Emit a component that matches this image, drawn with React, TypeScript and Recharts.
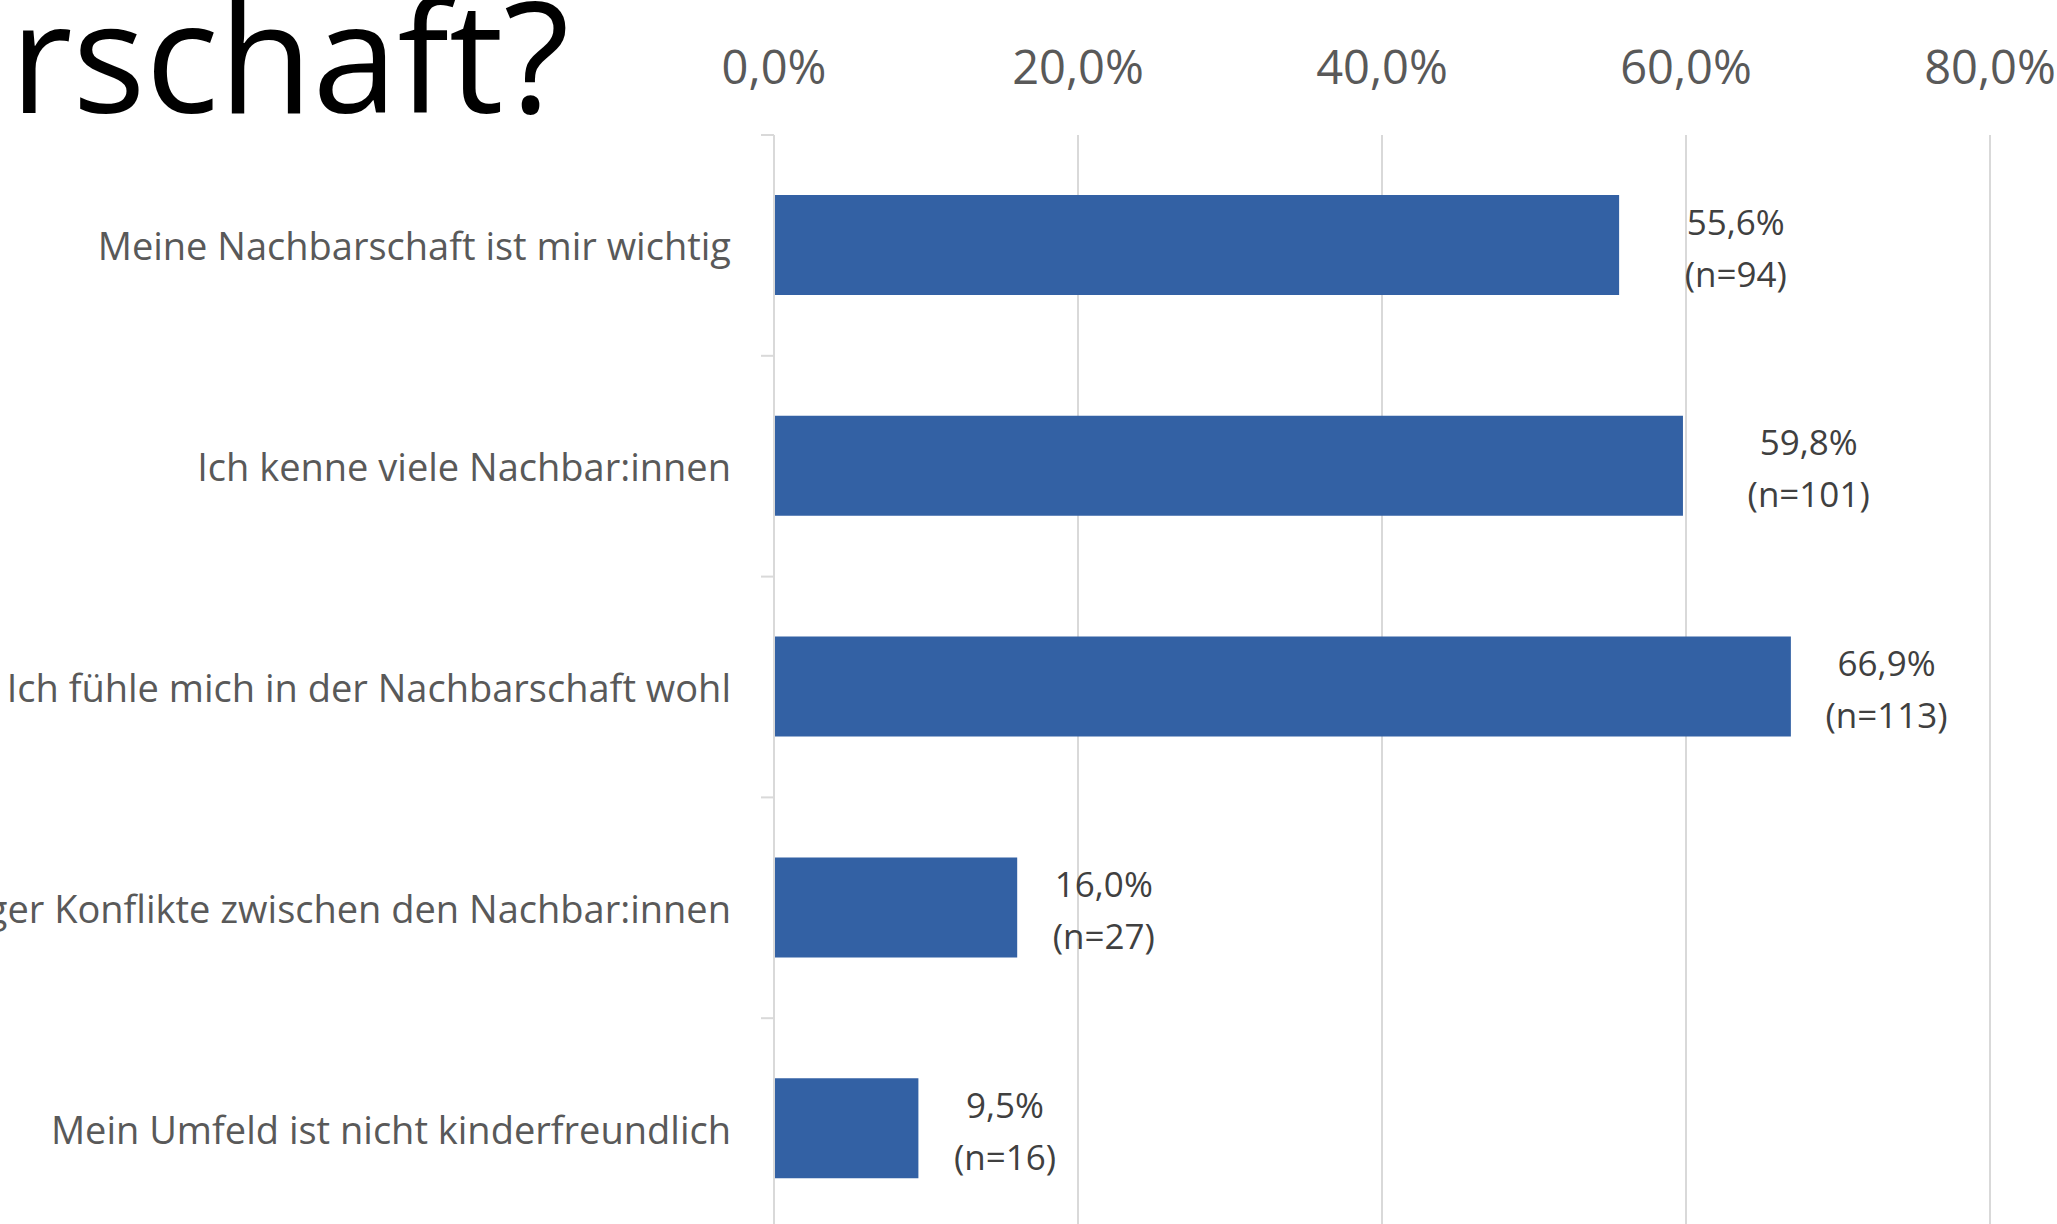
import React from "react";
import { BarChart, Bar, XAxis, YAxis, CartesianGrid, LabelList } from "recharts";

const CATEGORIES = [
  "Meine Nachbarschaft ist mir wichtig",
  "Ich kenne viele Nachbar:innen",
  "Ich fühle mich in der Nachbarschaft wohl",
  "Es gibt häufiger Konflikte zwischen den Nachbar:innen",
  "Mein Umfeld ist nicht kinderfreundlich",
];
const SHARES = [55.6, 59.8, 66.9, 16.0, 9.5];
const COUNTS = [94, 101, 113, 27, 16];
const X_TICKS = [0, 20, 40, 60, 80];
const TITLE = "rschaft?";

const W = 2057;
const H = 1224;
const PLOT_TOP = 135;
const PLOT_LEFT = 774;
const CHART_H = 1239;
const BAND = (CHART_H - PLOT_TOP) / CATEGORIES.length;

const GRID = "#d9d9d9";
const TEXT = "#595959";
const BAR = "#3361a4";
const FONT = "'Open Sans', sans-serif";

const data = CATEGORIES.map((name, i) => ({ name, value: SHARES[i], n: COUNTS[i] }));

const pct = (v: number) => v.toFixed(1).replace(".", ",") + "%";

const XTick = (props: any) => (
  <text
    x={props.x}
    y={PLOT_TOP - 69}
    textAnchor="middle"
    dominantBaseline="central"
    fontSize={47}
    fontFamily={FONT}
    fill={TEXT}
  >
    {pct(props.payload.value)}
  </text>
);

const YTick = (props: any) => (
  <g>
    <line x1={PLOT_LEFT - 13} x2={PLOT_LEFT} y1={props.y - BAND / 2} y2={props.y - BAND / 2} stroke={GRID} strokeWidth={2} />
    <text
      x={PLOT_LEFT - 43}
      y={props.y}
      textAnchor="end"
      dominantBaseline="central"
      fontSize={38}
      fontFamily={FONT}
      fill={TEXT}
    >
      {props.payload.value}
    </text>
  </g>
);

// first two labels were nudged further right in the original
const ValueLabel = (props: any) => {
  const { x, y, width, height, index } = props;
  const nText = `(n=${COUNTS[index]})`;
  const gap = index < 2 ? 62 : 32;
  const cx = x + width + gap + (nText.length * 35 * 0.52) / 2;
  const cy = y + height / 2;
  return (
    <g fontSize={35} fontFamily={FONT} fill="#404040" textAnchor="middle">
      <text x={cx} y={cy - 24} dominantBaseline="central">{pct(SHARES[index])}</text>
      <text x={cx} y={cy + 28} dominantBaseline="central">{nText}</text>
    </g>
  );
};

export default function App() {
  return (
    <div style={{ position: "relative", width: W, height: H, overflow: "hidden", background: "#fff" }}>
      <style>{`body{margin:0}`}</style>
      <BarChart
        width={W}
        height={CHART_H}
        data={data}
        layout="vertical"
        margin={{ top: 0, right: 67, bottom: 0, left: 0 }}
      >
        <CartesianGrid horizontal={false} stroke={GRID} strokeWidth={2} />
        <XAxis
          type="number"
          orientation="top"
          domain={[0, 80]}
          ticks={X_TICKS}
          height={PLOT_TOP}
          axisLine={false}
          tickLine={false}
          tick={<XTick />}
        />
        <YAxis
          type="category"
          dataKey="name"
          width={PLOT_LEFT}
          interval={0}
          axisLine={{ stroke: GRID, strokeWidth: 2 }}
          tickLine={false}
          tick={<YTick />}
        />
        <Bar dataKey="value" fill={BAR} barSize={100} isAnimationActive={false}>
          <LabelList dataKey="value" content={<ValueLabel />} />
        </Bar>
      </BarChart>
      <svg width={W} height={200} style={{ position: "absolute", left: 0, top: 0 }}>
        <text x={10} y={113} fontSize={153} fontFamily={FONT} fill="#000">{TITLE}</text>
      </svg>
    </div>
  );
}
